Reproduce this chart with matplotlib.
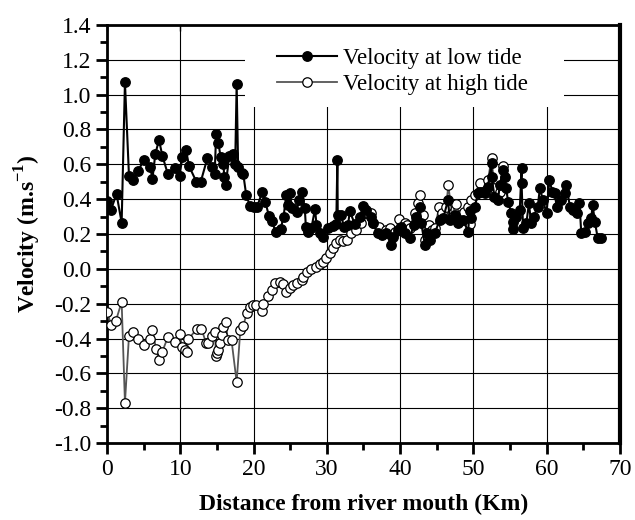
import matplotlib
matplotlib.use("Agg")
import matplotlib.pyplot as plt
from matplotlib.patches import Rectangle
from matplotlib.ticker import MultipleLocator

plt.rcParams['font.family'] = ['Liberation Serif', 'DejaVu Serif']
plt.rcParams['mathtext.fontset'] = 'custom'
plt.rcParams['mathtext.bf'] = 'Liberation Serif:bold'
plt.rcParams['mathtext.rm'] = 'Liberation Serif'

# velocity at low tide (m/s) vs distance from the river mouth (km)
low_x = [0.04, 0.55, 1.3, 2.0, 2.45, 3.0, 3.5, 4.2, 5.05, 5.9, 6.2, 6.6, 7.1, 7.55,
         8.3, 9.3, 9.9, 10.3, 10.8, 11.2, 12.2, 12.8, 13.7, 14.4, 14.7, 14.9, 15.2,
         15.5, 15.9, 16.0, 16.2, 16.7, 17.2, 17.5, 17.7, 17.9, 18.4, 18.6, 19.0, 19.5,
         20.0, 20.5, 21.2, 21.6, 22.1, 22.5, 23.05, 23.7, 24.1, 24.5, 24.7, 25.0, 25.2,
         25.9, 26.2, 26.6, 27.0, 27.15, 27.5, 27.9, 28.4, 28.6, 29.1, 29.5, 30.2, 30.9,
         31.3, 31.45, 31.5, 32.0, 32.3, 32.9, 33.15, 33.8, 34.5, 35.0, 35.4, 36.1, 36.3,
         37.0, 37.6, 38.1, 38.8, 39.05, 39.7, 40.2, 40.65, 41.3, 41.9, 42.25, 42.7, 42.9,
         43.4, 43.7, 44.1, 44.75, 45.4, 45.9, 46.55, 46.8, 47.5, 47.9, 48.6, 49.3, 49.5,
         49.75, 50.2, 50.65, 50.9, 51.6, 52.0, 52.5, 52.5, 52.9, 53.4, 53.6, 54.1, 54.3,
         54.5, 54.75, 55.2, 55.4, 55.4, 55.9, 56.35, 56.6, 56.6, 56.8, 57.25, 57.6, 57.9,
         58.25, 58.8, 59.1, 59.5, 60.0, 60.4, 60.8, 61.1, 61.4, 62.0, 62.5, 62.7, 63.2,
         63.6, 64.1, 64.5, 64.75, 65.2, 65.7, 66.1, 66.3, 66.6, 67.0, 67.5]
low_v = [0.39, 0.34, 0.43, 0.265, 1.07, 0.535, 0.51, 0.56, 0.625, 0.587, 0.515, 0.66,
         0.74, 0.65, 0.545, 0.577, 0.533, 0.644, 0.68, 0.59, 0.5, 0.5, 0.635, 0.587,
         0.545, 0.775, 0.725, 0.644, 0.6, 0.53, 0.48, 0.65, 0.66, 0.6, 1.06, 0.587,
         0.55, 0.545, 0.425, 0.363, 0.357, 0.357, 0.443, 0.386, 0.305, 0.275, 0.21,
         0.227, 0.30, 0.425, 0.367, 0.437, 0.348, 0.328, 0.395, 0.443, 0.348, 0.242,
         0.214, 0.233, 0.344, 0.252, 0.204, 0.185, 0.233, 0.248, 0.26, 0.625, 0.31,
         0.31, 0.243, 0.252, 0.33, 0.26, 0.30, 0.363, 0.338, 0.30, 0.262, 0.204, 0.195,
         0.204, 0.137, 0.185, 0.223, 0.242, 0.204, 0.175, 0.252, 0.30, 0.357, 0.262,
         0.137, 0.204, 0.166, 0.204, 0.28, 0.29, 0.395, 0.28, 0.31, 0.262, 0.28, 0.214,
         0.33, 0.29, 0.357, 0.434, 0.443, 0.434, 0.472, 0.605, 0.53, 0.415, 0.395, 0.48,
         0.567, 0.53, 0.463, 0.386, 0.32, 0.27, 0.227, 0.30, 0.338, 0.577, 0.49, 0.233,
         0.262, 0.376, 0.262, 0.30, 0.357, 0.463, 0.395, 0.32, 0.51, 0.443, 0.434, 0.357,
         0.395, 0.434, 0.48, 0.357, 0.338, 0.32, 0.376, 0.204, 0.214, 0.262, 0.29, 0.367,
         0.27, 0.175, 0.175]

# velocity at high tide (m/s)
high_x = [0.04, 0.55, 1.2, 2.0, 2.45, 3.0, 3.6, 4.2, 5.05, 5.9, 6.2, 6.7, 7.1, 7.55,
          8.3, 9.3, 9.9, 10.3, 10.6, 10.9, 11.1, 12.3, 12.9, 13.5, 13.8, 14.4, 14.7,
          14.9, 15.05, 15.2, 15.4, 15.7, 15.85, 16.2, 16.5, 17.0, 17.7, 18.2, 18.6,
          19.06, 19.5, 19.95, 20.4, 21.2, 21.3, 22.0, 22.5, 22.9, 23.6, 24.05, 24.5,
          24.97, 25.4, 25.9, 26.6, 26.8, 27.3, 27.9, 28.6, 29.05, 29.5, 29.96, 30.4,
          30.9, 31.3, 31.8, 32.2, 32.7, 33.3, 34.0, 34.7, 35.4, 36.1, 36.3, 37.2, 38.1,
          38.6, 39.3, 39.9, 40.65, 40.9, 41.3, 42.0, 42.45, 42.7, 43.2, 43.4, 44.0,
          44.3, 44.75, 45.35, 45.7, 46.3, 46.6, 47.1, 47.6, 48.2, 48.8, 49.3, 49.5,
          49.75, 50.2, 50.9, 52.0, 52.5, 52.9, 53.6, 54.1]
high_v = [-0.25, -0.32, -0.30, -0.19, -0.77, -0.385, -0.36, -0.40, -0.437, -0.40, -0.35,
          -0.46, -0.523, -0.475, -0.393, -0.418, -0.374, -0.45, -0.466, -0.475, -0.404,
          -0.343, -0.343, -0.424, -0.427, -0.383, -0.36, -0.50, -0.485, -0.466, -0.424,
          -0.38, -0.332, -0.303, -0.408, -0.41, -0.65, -0.35, -0.33, -0.255, -0.217,
          -0.207, -0.207, -0.24, -0.203, -0.156, -0.122, -0.083, -0.074, -0.087, -0.131,
          -0.112, -0.093, -0.08, -0.064, -0.045, -0.016, -0.002, 0.013, 0.028, 0.041,
          0.061, 0.09, 0.118, 0.147, 0.166, 0.157, 0.166, 0.204, 0.223, 0.262, 0.32,
          0.32, 0.262, 0.243, 0.223, 0.233, 0.214, 0.285, 0.262, 0.252, 0.233, 0.32,
          0.377, 0.425, 0.31, 0.166, 0.252, 0.223, 0.233, 0.357, 0.32, 0.357, 0.482,
          0.30, 0.372, 0.31, 0.328, 0.357, 0.26, 0.395, 0.425, 0.495, 0.51, 0.635, 0.463,
          0.443, 0.59]

fig = plt.figure(figsize=(6.35, 5.2), dpi=100)
ax = fig.add_axes([0.1685, 0.148, 0.8075, 0.804])

ax.plot(high_x, high_v, '-', color='#555555', lw=1.3, marker='o', ms=6.8,
        mfc='white', mec='black', mew=0.9, label='Velocity at high tide', zorder=3)
ax.plot(low_x, low_v, '-', color='black', lw=1.5, marker='o', ms=6.8,
        mfc='black', mec='black', label='Velocity at low tide', zorder=4)

ax.set_xlim(0, 70)
ax.set_ylim(-1.0, 1.4)
ax.xaxis.set_major_locator(MultipleLocator(10))
ax.xaxis.set_minor_locator(MultipleLocator(5))
ax.yaxis.set_major_locator(MultipleLocator(0.2))
ax.yaxis.set_minor_locator(MultipleLocator(0.1))
ax.yaxis.set_major_formatter(plt.FuncFormatter(lambda v, p: f'{v:.1f}'))
ax.grid(True, which='major', color='black', lw=0.8)
ax.set_axisbelow(True)

ax.tick_params(which='major', direction='out', length=8, width=2, labelsize=17)
ax.tick_params(which='minor', direction='out', length=5, width=2)
for side in ['left', 'bottom']:
    ax.spines[side].set_linewidth(2)
ax.spines['top'].set_linewidth(2)
ax.spines['right'].set_linewidth(3)

# short inward marks on the top edge
top = ax.secondary_xaxis('top')
top.xaxis.set_major_locator(MultipleLocator(10))
top.tick_params(direction='in', length=4, width=1, labeltop=False)
top.spines['top'].set_visible(False)

ax.set_xlabel('Distance from river mouth (Km)', fontsize=17, fontweight='bold', labelpad=10)
ax.set_ylabel(r'Velocity (m.s$^{\mathbf{-1}}$)', fontsize=17, fontweight='bold', labelpad=8)

# white block behind the legend that hides the grid
ax.add_patch(Rectangle((0.269, 0.804), 0.622, 0.196, transform=ax.transAxes,
                       facecolor='white', edgecolor='none', zorder=2))

handles, labels = ax.get_legend_handles_labels()
leg = ax.legend(handles[::-1], labels[::-1], loc='upper left',
                bbox_to_anchor=(0.331, 0.946), fontsize=16.5, frameon=False,
                handlelength=2.62, handletextpad=0.26, labelspacing=0.22,
                borderpad=0, borderaxespad=0)
leg.set_zorder(5)

fig.savefig('out.png', dpi=100)
